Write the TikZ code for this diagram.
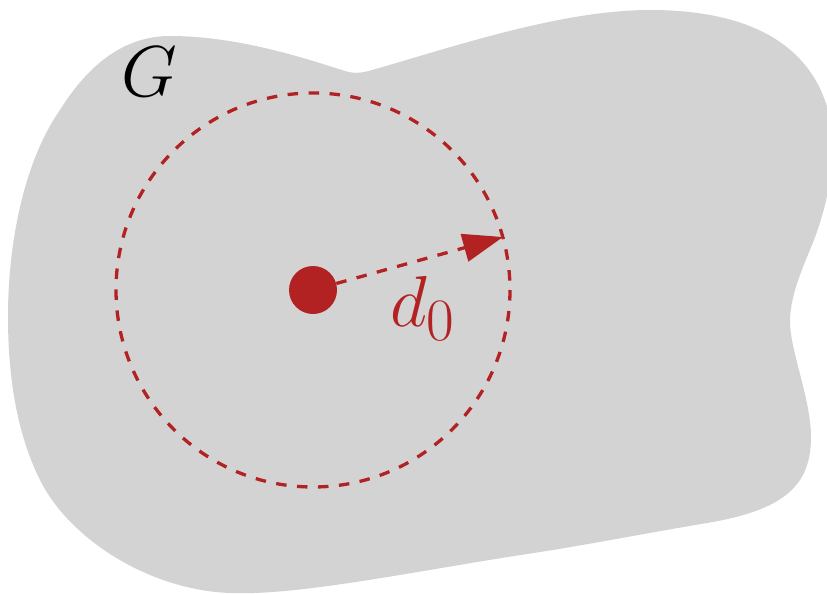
\documentclass[tikz,border=0pt]{standalone}
\usetikzlibrary{arrows.meta}
\definecolor{blobgray}{RGB}{211,211,211}
\definecolor{myred}{RGB}{178,34,34}
\tikzset{
  blob/.style={fill=blobgray, draw=none},
  dashline/.style={draw=myred, line width=3.3pt, dash pattern=on 10.5pt off 10.5pt},
  dotnode/.style={circle, fill=myred, draw=none, minimum size=48pt, inner sep=0pt},
  lbl/.style={anchor=base west, inner sep=0pt},
}
\newcommand{\bigmath}[1]{\scalebox{2.9}{\Huge$#1$}}
\begin{document}
\begin{tikzpicture}[x=1pt, y=-1pt]
\clip (0,0) rectangle (827,594);
\fill[white] (0,0) rectangle (827,594);
\path[blob] (170,36)
  .. controls (240,36) and (310,60) .. (345,71)
  .. controls (355,74) and (362,73) .. (372,70)
  .. controls (450,48) and (560,10) .. (650,10)
  .. controls (750,10) and (810,45) .. (828,110)
  .. controls (838,150) and (830,200) .. (812,245)
  .. controls (798,278) and (790,300) .. (790,322)
  .. controls (790,350) and (811,400) .. (811,437)
  .. controls (811,485) and (785,510) .. (707,523)
  .. controls (650,532.5) and (580,546) .. (540,552)
  .. controls (420,570) and (300,596) .. (230,593)
  .. controls (150,590) and (70,540) .. (40,480)
  .. controls (15,430) and (8,370) .. (8,317)
  .. controls (8,240) and (25,160) .. (60,110)
  .. controls (85,70) and (120,36) .. (170,36) -- cycle;
\node[dotnode] (c) at (313,290) {};
\draw[dashline] (c.center) circle[radius=197];
\coordinate (t) at (503,237);
\draw[dashline, -{Triangle[length=40pt, width=28pt]}] (c) -- (t);
\node[lbl] (g) at (121,96.5) {\bigmath{G}};
\node[lbl, text=myred] (d) at (390,326.5) {\bigmath{d_0}};
\end{tikzpicture}
\end{document}
